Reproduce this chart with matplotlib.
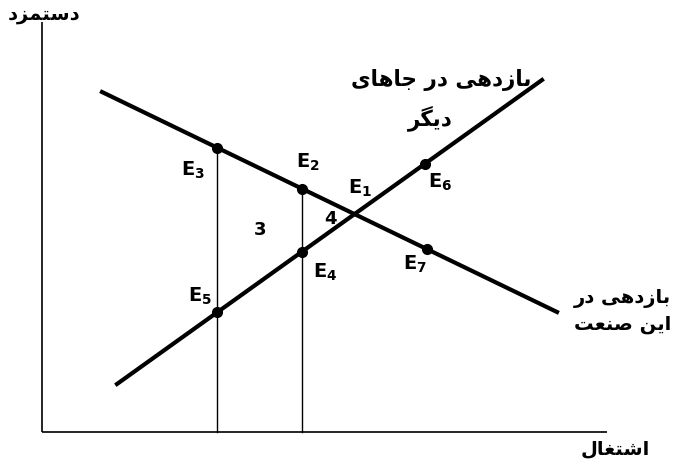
import matplotlib.pyplot as plt

# --- minimal Persian shaping (matplotlib has no bidi / joining support) ---
# letter: (isolated, final, initial, medial); None = no such form
FORMS = {
    'ا': ('\uFE8D', '\uFE8E', None, None),
    'ب': ('\uFE8F', '\uFE90', '\uFE91', '\uFE92'),
    'ت': ('\uFE95', '\uFE96', '\uFE97', '\uFE98'),
    'ج': ('\uFE9D', '\uFE9E', '\uFE9F', '\uFEA0'),
    'د': ('\uFEA9', '\uFEAA', None, None),
    'ر': ('\uFEAD', '\uFEAE', None, None),
    'ز': ('\uFEAF', '\uFEB0', None, None),
    'س': ('\uFEB1', '\uFEB2', '\uFEB3', '\uFEB4'),
    'ش': ('\uFEB5', '\uFEB6', '\uFEB7', '\uFEB8'),
    'ص': ('\uFEB9', '\uFEBA', '\uFEBB', '\uFEBC'),
    'ع': ('\uFEC9', '\uFECA', '\uFECB', '\uFECC'),
    'غ': ('\uFECD', '\uFECE', '\uFECF', '\uFED0'),
    'گ': ('\uFB92', '\uFB93', '\uFB94', '\uFB95'),
    'ل': ('\uFEDD', '\uFEDE', '\uFEDF', '\uFEE0'),
    'م': ('\uFEE1', '\uFEE2', '\uFEE3', '\uFEE4'),
    'ن': ('\uFEE5', '\uFEE6', '\uFEE7', '\uFEE8'),
    'ه': ('\uFEE9', '\uFEEA', '\uFEEB', '\uFEEC'),
    'ی': ('\uFEEF', '\uFEF0', '\uFEF3', '\uFEF4'),
}


def joins_left(ch):
    return ch in FORMS and FORMS[ch][2] is not None


def shape_word(word):
    out = []
    for i, ch in enumerate(word):
        if ch not in FORMS:
            out.append(ch)
            continue
        prev_joins = i > 0 and joins_left(word[i - 1])
        next_joins = i < len(word) - 1 and word[i + 1] in FORMS and joins_left(ch)
        iso, fin, ini, med = FORMS[ch]
        if prev_joins and next_joins:
            out.append(med)
        elif prev_joins:
            out.append(fin)
        elif next_joins:
            out.append(ini)
        else:
            out.append(iso)
    return ''.join(reversed(out))


def fa(text):
    return ' '.join(shape_word(w) for w in reversed(text.split(' ')))


# --- data (employment on x, wage on y) ---
this_industry_x = [12, 103]
this_industry_y = [85, 30]
elsewhere_x = [15, 100]
elsewhere_y = [12, 88]

cut_x = [35, 52]                 # the two vertical employment levels
cut_top = [71.1, 60.8]           # E3, E2 on this-industry line

point_names = ['E2', 'E3', 'E4', 'E5', 'E6', 'E7']
point_x = [52, 35, 52, 35, 76.5, 77]
point_y = [60.8, 71.1, 45.1, 29.9, 67, 45.7]

label_names = ['E1', 'E2', 'E3', 'E4', 'E5', 'E6', 'E7']
label_x = [63.6, 53.2, 30.2, 56.6, 31.6, 79.6, 74.6]
label_y = [61, 67.3, 65.5, 40, 34, 62.5, 42]

area_names = ['3', '4']
area_x = [43.6, 57.6]
area_y = [50.5, 53.3]

y_label = 'دستمزد'
x_label = 'اشتغال'
elsewhere_label = ['بازدهی در جاهای', 'دیگر']
industry_label = ['بازدهی در', 'این صنعت']

fig = plt.figure(figsize=(6.73, 4.66), dpi=100)
ax = fig.add_axes([0, 0, 1, 1])
ax.set_xlim(-8.4, 126.2)
ax.set_ylim(-8.5, 108)
ax.axis('off')

# axes drawn by hand, like the textbook figure
ax.plot([0, 0], [0, 102.5], color='black', lw=1.2, solid_capstyle='butt')
ax.plot([0, 113], [0, 0], color='black', lw=1.2, solid_capstyle='butt')

ax.plot(this_industry_x, this_industry_y, color='black', lw=3)
ax.plot(elsewhere_x, elsewhere_y, color='black', lw=3)

for cx, ct in zip(cut_x, cut_top):
    ax.plot([cx, cx], [0, ct], color='black', lw=1)

ax.plot(point_x, point_y, 'o', color='black', ms=7)

for name, lx, ly in zip(label_names, label_x, label_y):
    ax.text(lx, ly, r'$\mathbf{E_{%s}}$' % name[1:], fontsize=14,
            ha='center', va='center')

for name, lx, ly in zip(area_names, area_x, area_y):
    ax.text(lx, ly, name, fontsize=13, fontweight='bold', ha='center', va='center')

pfont = dict(family='DejaVu Sans', fontweight='bold', fontsize=14)
ax.text(0.4, 104.5, fa(y_label), ha='center', va='center', **pfont)
ax.text(114.6, -4.3, fa(x_label), ha='center', va='center', **pfont)
ax.text(79.8, 88, fa(elsewhere_label[0]), ha='center', va='center',
        family='DejaVu Sans', fontweight='bold', fontsize=15.5)
ax.text(77.6, 78.5, fa(elsewhere_label[1]), ha='center', va='center',
        family='DejaVu Sans', fontweight='bold', fontsize=15.5)
ax.text(125.8, 33.5, fa(industry_label[0]), ha='right', va='center', **pfont)
ax.text(125.8, 26.8, fa(industry_label[1]), ha='right', va='center', **pfont)

fig.savefig('out.png', dpi=100)
